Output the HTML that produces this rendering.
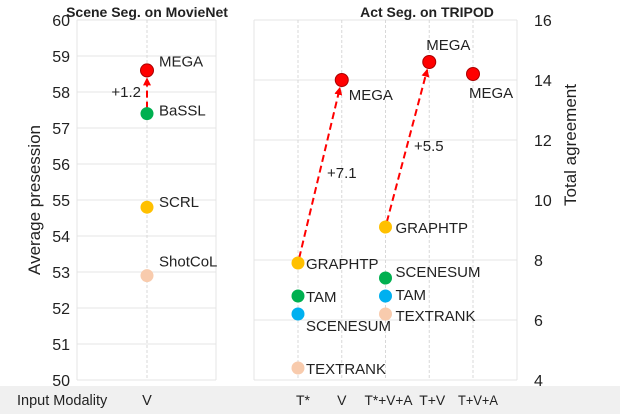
<!DOCTYPE html>
<html><head><meta charset="utf-8"><style>
body{margin:0;background:#fff;}
svg{display:block;font-family:"Liberation Sans",sans-serif;}
</style></head><body>
<svg id="c" width="620" height="414"></svg>
<script>
const leftCats=["V"];
const leftNames=["MEGA","BaSSL","SCRL","ShotCoL"];
const leftVals=[58.6,57.4,54.8,52.9];
const leftColors=["#ff0000","#00b050","#ffc000","#f8cbad"];
const leftTicks=[50,51,52,53,54,55,56,57,58,59,60];
const rightCats=["T*","V","T*+V+A","T+V","T+V+A"];
const rightNames=["GRAPHTP","TAM","SCENESUM","TEXTRANK","MEGA","GRAPHTP","SCENESUM","TAM","TEXTRANK","MEGA","MEGA"];
const rightCatIdx=[0,0,0,0,1,2,2,2,2,3,4];
const rightVals=[7.9,6.8,6.2,4.4,14.0,9.1,7.4,6.8,6.2,14.6,14.2];
const rightColors=["#ffc000","#00b050","#00b0f0","#f8cbad","#ff0000","#ffc000","#00b050","#00b0f0","#f8cbad","#ff0000","#ff0000"];
const rightTicks=[4,6,8,10,12,14,16];
const gainLabels=["+1.2","+7.1","+5.5"];

const NS="http://www.w3.org/2000/svg",svg=document.getElementById('c');
function mk(t,a,p){const e=document.createElementNS(NS,t);for(const k in a)e.setAttribute(k,a[k]);(p||svg).appendChild(e);return e;}
const yL=v=>380-(v-50)*36, yR=v=>380-(v-4)*30;
const xL=i=>147, xR=i=>298+i*43.75;
const defs=mk('defs',{});const mkr=mk('marker',{id:'ah',markerWidth:4,markerHeight:4,refX:3.5,refY:2,orient:'auto'},defs);mk('path',{d:'M0,0 L4,2 L0,4 Z',fill:'#ff0000'},mkr);
let e=mk('rect',{x:0,y:386,width:620,height:28,fill:'#f0f0f0'});

e=mk('text',{x:17,y:405,'font-size':14.5,fill:'#222'});e.textContent='Input Modality';

leftTicks.forEach(t=>{mk('line',{x1:77,x2:216,y1:yL(t),y2:yL(t),stroke:'#e4e4e4'});
 e=mk('text',{x:70,y:yL(t)+6,'font-size':16,'text-anchor':'end',fill:'#222'});e.textContent=t;
 });
mk('line',{x1:77,x2:77,y1:20,y2:380,stroke:'#e4e4e4'});mk('line',{x1:216,x2:216,y1:20,y2:380,stroke:'#e4e4e4'});
leftCats.forEach((c,i)=>{mk('line',{x1:xL(i),x2:xL(i),y1:20,y2:380,stroke:'#d8d8d8','stroke-dasharray':'3,2'});
 e=mk('text',{x:xL(i),y:405,'font-size':14.5,'text-anchor':'middle',fill:'#222'});e.textContent=c;
 });
e=mk('text',{x:0,y:0,'font-size':17,'text-anchor':'middle',fill:'#222',transform:'translate(40,200) rotate(-90)'});e.textContent='Average presession';

e=mk('text',{x:147,y:17,'font-size':14,'font-weight':'bold','text-anchor':'middle',fill:'#222'});e.textContent='Scene Seg. on MovieNet';

rightTicks.forEach(t=>{mk('line',{x1:254,x2:517,y1:yR(t),y2:yR(t),stroke:'#e4e4e4'});
 e=mk('text',{x:534,y:yR(t)+6,'font-size':16,fill:'#222'});e.textContent=t;
 });
mk('line',{x1:254,x2:254,y1:20,y2:380,stroke:'#e4e4e4'});mk('line',{x1:517,x2:517,y1:20,y2:380,stroke:'#e4e4e4'});
const tickShift=[5,0,3,3,5];
rightCats.forEach((c,i)=>{mk('line',{x1:xR(i),x2:xR(i),y1:20,y2:380,stroke:'#d8d8d8','stroke-dasharray':'3,2'});
 const attrs={x:xR(i)+tickShift[i],y:405,'font-size':14,'text-anchor':'middle',fill:'#222'};
 if(c.length>4){attrs.textLength=c.length*8;attrs.lengthAdjust='spacingAndGlyphs';}
 e=mk('text',attrs);e.textContent=c;
 });
e=mk('text',{x:0,y:0,'font-size':17,'text-anchor':'middle',fill:'#222',transform:'translate(576,145) rotate(-90)'});e.textContent='Total agreement';

e=mk('text',{x:427,y:17,'font-size':14,'font-weight':'bold','text-anchor':'middle',fill:'#222'});e.textContent='Act Seg. on TRIPOD';

function arrow(x1,y1,x2,y2,name){const dx=x2-x1,dy=y2-y1,L=Math.hypot(dx,dy),ux=dx/L,uy=dy/L;
 const a=mk('line',{x1:x1+ux*5,y1:y1+uy*5,x2:x2-ux*8,y2:y2-uy*8,stroke:'#ff0000','stroke-width':2,'stroke-dasharray':'7,4','marker-end':'url(#ah)'});
 }
arrow(xL(0),yL(leftVals[1]),xL(0),yL(leftVals[0]),'gain-arrow-left');
arrow(xR(0),yR(rightVals[0]),xR(1),yR(rightVals[4]),'gain-arrow-t-star');
arrow(xR(2),yR(rightVals[5]),xR(3),yR(rightVals[9]),'gain-arrow-multimodal');
e=mk('text',{x:141,y:97,'font-size':15,'text-anchor':'end',fill:'#222'});e.textContent=gainLabels[0];

e=mk('text',{x:327,y:178,'font-size':15,fill:'#222'});e.textContent=gainLabels[1];

e=mk('text',{x:414,y:151,'font-size':15,fill:'#222'});e.textContent=gainLabels[2];

const leftLab=[[12,-9],[12,-3],[12,-5],[12,-14]];
leftVals.forEach((v,i)=>{const c=mk('circle',{cx:xL(0),cy:yL(v),r:6.5,fill:leftColors[i],stroke:i==0?'#a00':'none','stroke-width':1});
 
 const t=mk('text',{x:xL(0)+leftLab[i][0],y:yL(v)+5+leftLab[i][1],'font-size':15,fill:'#222'});t.textContent=leftNames[i];
 });
const rightLab=[[8,1],[8,1],[8,12],[8,1],[7,15],[10,1],[10,-6],[10,-1],[10,2],[-3,-17],[-4,19]];
rightVals.forEach((v,i)=>{const x=xR(rightCatIdx[i]),y=yR(v);
 const c=mk('circle',{cx:x,cy:y,r:6.5,fill:rightColors[i],stroke:rightColors[i]=="#ff0000"?'#a00':'none','stroke-width':1});
 
 const t=mk('text',{x:x+rightLab[i][0],y:y+5+rightLab[i][1],'font-size':15,fill:'#222'});t.textContent=rightNames[i];
 });
</script>
</body></html>
